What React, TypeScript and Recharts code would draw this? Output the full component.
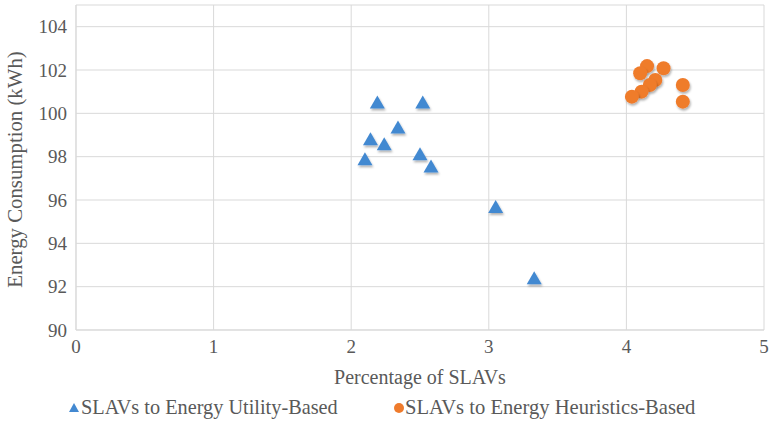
import { ScatterChart, Scatter, XAxis, YAxis, CartesianGrid, Label } from 'recharts';

// SLAVs to Energy Utility-Based
const utilityPct = [2.19, 2.52, 2.34, 2.14, 2.24, 2.1, 2.5, 2.58, 3.05, 3.33];
const utilityEnergy = [100.46, 100.46, 99.31, 98.77, 98.54, 97.84, 98.08, 97.51, 95.64, 92.35];

// SLAVs to Energy Heuristics-Based
const heuristicPct = [4.15, 4.27, 4.1, 4.21, 4.17, 4.11, 4.04, 4.41, 4.41];
const heuristicEnergy = [102.18, 102.08, 101.85, 101.54, 101.31, 101.0, 100.77, 101.31, 100.54];

const xTicks = [0, 1, 2, 3, 4, 5];
const yTicks = [90, 92, 94, 96, 98, 100, 102, 104];

const seriesNames = ['SLAVs to Energy Utility-Based', 'SLAVs to Energy Heuristics-Based'];
const xTitle = 'Percentage of SLAVs';
const yTitle = 'Energy Consumption (kWh)';

const BLUE = '#4389d1';
const ORANGE = '#ef7b2c';
const TEXT = '#595959';
const FONT = '"Liberation Serif", "Times New Roman", serif';

const utilityData = utilityPct.map((x, i) => ({ x, y: utilityEnergy[i] }));
const heuristicData = heuristicPct.map((x, i) => ({ x, y: heuristicEnergy[i] }));

const TriangleMark = (props: any) => {
  const { cx, cy } = props;
  const w = 15;
  const h = 13;
  return (
    <polygon
      points={`${cx},${cy - h * 0.6} ${cx + w / 2},${cy + h * 0.4} ${cx - w / 2},${cy + h * 0.4}`}
      fill={BLUE}
      filter="url(#markShadow)"
    />
  );
};

const CircleMark = (props: any) => {
  const { cx, cy } = props;
  return <circle cx={cx} cy={cy} r={7} fill={ORANGE} filter="url(#markShadow)" />;
};

const tickStyle = { fill: TEXT, fontSize: 19, fontFamily: FONT };

export default function App() {
  return (
    <div style={{ position: 'absolute', left: 0, top: 0, width: 772, height: 421, background: '#fff' }}>
      <ScatterChart width={772} height={421} margin={{ top: 5, right: 8, left: 0, bottom: 0 }}>
        <CartesianGrid stroke="#d9d9d9" strokeWidth={1} />
        <XAxis
          type="number"
          dataKey="x"
          domain={[0, 5]}
          ticks={xTicks}
          tickLine={false}
          axisLine={{ stroke: '#d9d9d9' }}
          tickSize={0}
          tickMargin={10}
          height={91}
          tick={tickStyle}
        >
          <Label
            content={(p: any) => {
              const vb = p.viewBox;
              return (
                <text
                  x={vb.x + vb.width / 2}
                  y={384}
                  textAnchor="middle"
                  fill={TEXT}
                  fontSize={20}
                  fontFamily={FONT}
                >
                  {xTitle}
                </text>
              );
            }}
          />
        </XAxis>
        <YAxis
          type="number"
          dataKey="y"
          domain={[90, 105]}
          ticks={yTicks}
          tickLine={false}
          axisLine={{ stroke: '#d9d9d9' }}
          tickSize={0}
          tickMargin={9}
          width={76}
          tick={tickStyle}
        >
          <Label
            content={() => (
              <text
                x={22}
                y={169.5}
                transform="rotate(-90 22 169.5)"
                textAnchor="middle"
                fill={TEXT}
                fontSize={20.8}
                fontFamily={FONT}
              >
                {yTitle}
              </text>
            )}
          />
        </YAxis>
        <Scatter name={seriesNames[0]} data={utilityData} shape={TriangleMark} isAnimationActive={false} />
        <Scatter name={seriesNames[1]} data={heuristicData} shape={CircleMark} isAnimationActive={false} />
      </ScatterChart>
      <svg
        width={772}
        height={421}
        style={{ position: 'absolute', left: 0, top: 0, pointerEvents: 'none' }}
      >
        <defs>
          <filter id="markShadow" x="-50%" y="-50%" width="200%" height="200%">
            <feDropShadow dx="1" dy="2" stdDeviation="1.2" floodColor="#000" floodOpacity="0.3" />
          </filter>
        </defs>
        <polygon points="74,403 79,412 69,412" fill={BLUE} />
        <text x={81} y={414} fill={TEXT} fontSize={20.3} fontFamily={FONT}>
          {seriesNames[0]}
        </text>
        <circle cx={399} cy={408} r={5} fill={ORANGE} />
        <text x={405} y={414} fill={TEXT} fontSize={20.6} fontFamily={FONT}>
          {seriesNames[1]}
        </text>
      </svg>
    </div>
  );
}
